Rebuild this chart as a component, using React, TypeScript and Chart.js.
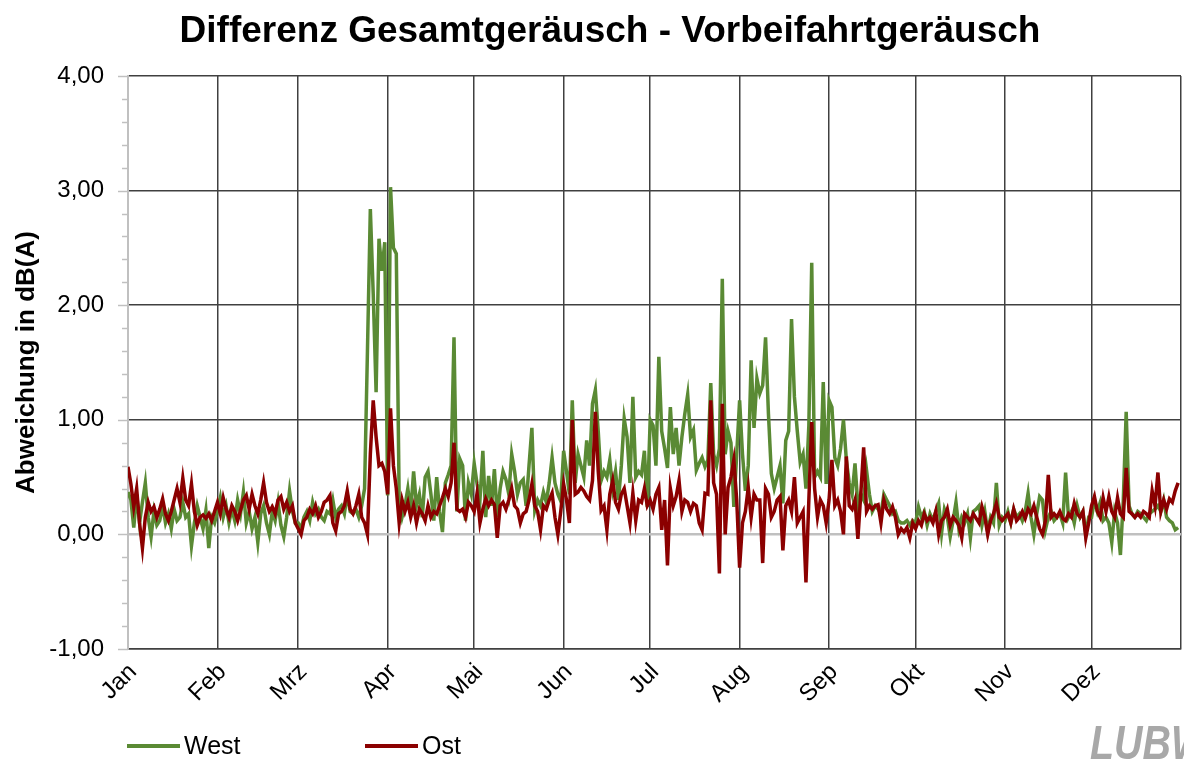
import React, { useEffect, useRef } from 'react';
import { Chart, registerables } from 'chart.js';

Chart.register(...registerables);

const chartTitle = 'Differenz Gesamtgeräusch - Vorbeifahrtgeräusch';
const yAxisTitle = 'Abweichung in dB(A)';
const monthLabels = ['Jan', 'Feb', 'Mrz', 'Apr', 'Mai', 'Jun', 'Jul', 'Aug', 'Sep', 'Okt', 'Nov', 'Dez'];
const monthDays = [31, 28, 31, 30, 31, 30, 31, 31, 30, 31, 30, 31];
const seriesNames = ['West', 'Ost'];

// daily values, one row per month
const westValues: number[][] = [
  [0.37, 0.30, 0.06, 0.35, 0.10, 0.28, 0.45, 0.15, -0.02, 0.20, 0.08, 0.12, 0.25, 0.10, 0.18, 0.05, 0.22, 0.12, 0.15, 0.28, 0.15, 0.18, -0.10, 0.10, 0.25, 0.15, 0.05, 0.21, -0.12, 0.15, 0.10],
  [0.20, 0.32, 0.15, 0.25, 0.10, 0.22, 0.12, 0.30, 0.18, 0.37, 0.10, 0.20, 0.05, 0.15, -0.07, 0.18, 0.25, 0.10, 0.00, 0.20, 0.12, 0.28, 0.08, -0.02, 0.15, 0.38, 0.20, 0.10],
  [0.10, 0.05, 0.15, 0.20, 0.12, 0.28, 0.18, 0.22, 0.15, 0.12, 0.20, 0.18, 0.30, 0.15, 0.22, 0.25, 0.18, 0.35, 0.20, 0.18, 0.22, 0.15, 0.25, 0.40, 1.60, 2.84, 2.10, 1.24, 2.58, 2.30, 2.55],
  [0.34, 3.03, 2.50, 2.45, 0.30, 0.15, 0.25, 0.40, 0.20, 0.55, 0.25, 0.35, 0.15, 0.50, 0.55, 0.35, 0.12, 0.50, 0.20, 0.02, 0.45, 0.52, 0.60, 1.72, 0.20, 0.66, 0.60, 0.12, 0.45, 0.35],
  [0.62, 0.44, 0.30, 0.73, 0.15, 0.51, 0.25, 0.57, 0.15, 0.40, 0.55, 0.48, 0.35, 0.70, 0.55, 0.35, 0.45, 0.48, 0.25, 0.60, 0.93, 0.21, 0.30, 0.25, 0.37, 0.28, 0.45, 0.67, 0.45, 0.35, 0.29],
  [0.73, 0.55, 0.35, 1.17, 0.45, 0.70, 0.60, 0.50, 0.82, 0.60, 1.14, 1.26, 0.90, 0.47, 0.55, 0.50, 0.65, 0.40, 0.55, 0.30, 0.60, 1.01, 0.85, 0.45, 1.20, 0.50, 0.55, 0.52, 0.73, 0.24],
  [1.00, 0.95, 0.60, 1.55, 0.90, 0.75, 0.58, 1.11, 0.70, 0.93, 0.60, 0.85, 1.05, 1.22, 0.85, 0.91, 0.56, 0.62, 0.67, 0.59, 0.65, 1.32, 0.70, 0.60, 0.75, 2.23, 0.70, 0.90, 0.80, 0.24, 0.70],
  [1.17, 0.70, 0.38, 0.60, 1.52, 0.93, 1.36, 1.23, 1.30, 1.72, 1.05, 0.53, 0.40, 0.50, 0.60, 0.27, 0.82, 0.90, 1.88, 1.20, 0.90, 0.63, 0.70, 0.40, 0.95, 2.37, 0.50, 0.55, 0.50, 1.33, 0.44],
  [1.17, 1.11, 0.67, 0.60, 0.75, 1.00, 0.65, 0.45, 0.35, 0.62, 0.25, 0.35, 0.30, 0.56, 0.35, 0.20, 0.25, 0.22, 0.18, 0.35, 0.30, 0.25, 0.18, 0.20, 0.12, 0.10, 0.10, 0.12, 0.08, 0.12],
  [0.10, 0.24, 0.15, 0.20, 0.08, 0.18, 0.12, 0.20, 0.27, 0.01, 0.22, 0.15, -0.02, 0.12, 0.28, 0.05, 0.15, 0.10, 0.18, -0.03, 0.20, 0.22, 0.25, 0.08, 0.20, 0.02, 0.15, 0.10, 0.45, 0.08, 0.15],
  [0.12, 0.20, 0.10, 0.22, 0.15, 0.18, 0.12, 0.20, 0.36, 0.15, 0.00, 0.18, 0.33, 0.30, 0.04, 0.15, 0.20, 0.12, 0.15, 0.18, 0.10, 0.54, 0.15, 0.20, 0.10, 0.25, 0.15, 0.20, 0.00, 0.15],
  [0.15, 0.30, 0.20, 0.28, 0.12, 0.15, 0.10, -0.07, 0.20, 0.10, -0.18, 0.30, 1.07, 0.25, 0.18, 0.15, 0.20, 0.18, 0.15, 0.12, 0.18, 0.20, 0.22, 0.25, 0.20, 0.30, 0.15, 0.12, 0.10, 0.04, 0.06],
];

const ostValues: number[][] = [
  [0.59, 0.44, 0.24, 0.40, 0.10, -0.12, 0.15, 0.28, 0.20, 0.24, 0.15, 0.22, 0.31, 0.18, 0.12, 0.20, 0.30, 0.40, 0.28, 0.49, 0.30, 0.25, 0.44, 0.20, 0.08, 0.15, 0.17, 0.14, 0.18, 0.12, 0.20],
  [0.28, 0.18, 0.32, 0.22, 0.15, 0.25, 0.20, 0.12, 0.21, 0.30, 0.34, 0.22, 0.35, 0.25, 0.18, 0.30, 0.45, 0.28, 0.20, 0.24, 0.18, 0.30, 0.33, 0.22, 0.28, 0.20, 0.25, 0.10],
  [0.05, 0.00, 0.12, 0.15, 0.22, 0.18, 0.25, 0.15, 0.20, 0.28, 0.30, 0.34, 0.10, 0.03, 0.18, 0.20, 0.25, 0.38, 0.22, 0.18, 0.25, 0.35, 0.15, 0.10, 0.00, 0.70, 1.17, 0.85, 0.60, 0.62, 0.55],
  [0.35, 1.10, 0.60, 0.40, 0.10, 0.30, 0.20, 0.28, 0.15, 0.25, 0.10, 0.22, 0.18, 0.12, 0.25, 0.15, 0.20, 0.18, 0.25, 0.32, 0.40, 0.33, 0.45, 0.80, 0.22, 0.20, 0.22, 0.15, 0.28, 0.25],
  [0.20, 0.36, 0.10, 0.22, 0.31, 0.25, 0.30, 0.26, -0.03, 0.25, 0.28, 0.22, 0.30, 0.40, 0.25, 0.22, 0.10, 0.18, 0.20, 0.30, 0.44, 0.25, 0.20, 0.04, 0.25, 0.22, 0.30, 0.36, 0.15, 0.00, 0.20],
  [0.44, 0.30, 0.10, 1.00, 0.35, 0.37, 0.41, 0.38, 0.33, 0.30, 0.47, 1.07, 0.55, 0.21, 0.25, 0.04, 0.35, 0.47, 0.28, 0.22, 0.35, 0.40, 0.25, 0.10, 0.36, 0.12, 0.30, 0.28, 0.40, 0.25],
  [0.30, 0.22, 0.35, 0.41, 0.04, 0.30, -0.27, 0.40, 0.25, 0.33, 0.47, 0.20, 0.30, 0.28, 0.20, 0.27, 0.25, 0.10, 0.04, 0.36, 0.35, 1.17, 0.45, 0.35, -0.34, 1.14, 0.00, 0.41, 0.50, 0.65, 0.30],
  [-0.29, 0.10, 0.20, 0.41, 0.15, 0.35, 0.30, 0.30, -0.25, 0.40, 0.35, 0.15, 0.20, 0.30, 0.33, -0.14, 0.25, 0.30, 0.20, 0.50, 0.10, 0.15, 0.20, -0.42, 0.30, 0.98, 0.40, 0.15, 0.30, 0.25, 0.10],
  [0.30, 0.65, 0.25, 0.30, 0.20, 0.00, 0.68, 0.25, 0.22, 0.30, -0.04, 0.35, 0.76, 0.20, 0.25, 0.22, 0.25, 0.26, 0.10, 0.30, 0.22, 0.18, 0.24, 0.15, 0.00, 0.05, 0.02, 0.06, -0.03, 0.10],
  [0.05, 0.12, 0.08, 0.18, 0.12, 0.15, 0.10, 0.20, 0.00, 0.12, 0.15, 0.22, 0.08, 0.15, 0.12, 0.08, -0.03, 0.18, 0.15, 0.12, 0.18, 0.14, 0.10, 0.24, 0.15, 0.00, 0.12, 0.18, 0.27, 0.15, 0.12],
  [0.15, 0.18, 0.10, 0.22, 0.12, 0.15, 0.20, 0.14, 0.22, 0.18, 0.25, 0.15, 0.05, 0.00, 0.12, 0.52, 0.15, 0.18, 0.15, 0.20, 0.14, 0.12, 0.18, 0.15, 0.27, 0.18, 0.15, 0.20, -0.03, 0.10],
  [0.25, 0.33, 0.20, 0.15, 0.32, 0.20, 0.33, 0.20, 0.15, 0.32, 0.18, 0.15, 0.58, 0.20, 0.18, 0.15, 0.18, 0.15, 0.20, 0.18, 0.15, 0.38, 0.25, 0.54, 0.20, 0.30, 0.22, 0.31, 0.28, 0.38, 0.45],
];

const FONT = "'Liberation Sans', Arial, sans-serif";
const GREEN = '#5a8a34';
const RED = '#8b0000';
const DARK = '#404040';
const GRAY = '#c0c0c0';

const isWhole = (v: number) => Math.abs(v - Math.round(v)) < 1e-6;

export default function App() {
  const ref = useRef<HTMLCanvasElement>(null);

  useEffect(() => {
    document.body.style.margin = '0';
    const canvas = ref.current;
    if (!canvas) return;

    const monthStarts: number[] = [];
    let acc = 0;
    for (const d of monthDays) {
      monthStarts.push(acc);
      acc += d;
    }
    const totalDays = acc;
    const toPoints = (rows: number[][]) => rows.flat().map((v, i) => ({ x: i, y: v }));

    const decor = {
      id: 'decor',
      afterDraw(chart: any) {
        const ctx = chart.ctx as CanvasRenderingContext2D;
        const yScale = chart.scales.y;
        const axisX = chart.chartArea.left;
        ctx.save();
        // y-axis tick marks (major + minor)
        ctx.strokeStyle = GRAY;
        ctx.lineWidth = 1.5;
        for (let k = 0; k <= 25; k++) {
          const v = -1 + k * 0.2;
          const y = Math.round(yScale.getPixelForValue(v)) + 0.5;
          const len = k % 5 === 0 ? 10 : 6;
          ctx.beginPath();
          ctx.moveTo(axisX - len, y);
          ctx.lineTo(axisX, y);
          ctx.stroke();
        }
        // title
        ctx.fillStyle = '#000';
        ctx.font = `bold 37px ${FONT}`;
        ctx.textAlign = 'center';
        ctx.textBaseline = 'middle';
        ctx.fillText(chartTitle, 610, 32);
        // legend
        const items = [
          { name: seriesNames[0], color: GREEN, x: 127 },
          { name: seriesNames[1], color: RED, x: 365 },
        ];
        ctx.font = `25px ${FONT}`;
        ctx.textAlign = 'left';
        for (const it of items) {
          ctx.strokeStyle = it.color;
          ctx.lineWidth = 4;
          ctx.beginPath();
          ctx.moveTo(it.x, 746);
          ctx.lineTo(it.x + 53, 746);
          ctx.stroke();
          ctx.fillStyle = '#000';
          ctx.fillText(it.name, it.x + 57, 747);
        }
        // logo
        ctx.fillStyle = '#a8a8a8';
        ctx.font = `italic bold 48px ${FONT}`;
        ctx.textBaseline = 'alphabetic';
        ctx.translate(1090, 759);
        ctx.scale(0.82, 1);
        ctx.fillText('LUBW', 0, 0);
        ctx.restore();
      },
    };

    const chart = new Chart(canvas, {
      type: 'line',
      data: {
        datasets: [
          {
            label: seriesNames[0],
            data: toPoints(westValues),
            borderColor: GREEN,
            backgroundColor: GREEN,
            borderWidth: 3.5,
            pointRadius: 0,
            tension: 0,
            order: 2,
          },
          {
            label: seriesNames[1],
            data: toPoints(ostValues),
            borderColor: RED,
            backgroundColor: RED,
            borderWidth: 3.5,
            pointRadius: 0,
            tension: 0,
            order: 1,
          },
        ],
      },
      options: {
        responsive: false,
        animation: false,
        events: [],
        layout: { padding: { top: 76, right: 3, bottom: 0, left: 0 } },
        plugins: {
          legend: { display: false },
          title: { display: false },
          tooltip: { enabled: false },
        },
        scales: {
          x: {
            type: 'linear',
            min: 0,
            max: totalDays,
            afterBuildTicks: (s: any) => {
              s.ticks = [...monthStarts, totalDays].map((v) => ({ value: v }));
            },
            afterFit: (s: any) => {
              s.height = 111;
              s.paddingLeft = 0;
              s.paddingRight = 0;
            },
            ticks: {
              autoSkip: false,
              minRotation: 45,
              maxRotation: 45,
              padding: 9,
              labelOffset: 5,
              color: '#000',
              font: { family: FONT, size: 24 },
              callback: (v: any) => {
                const i = monthStarts.indexOf(Number(v));
                return i >= 0 ? monthLabels[i] : '';
              },
            },
            grid: {
              color: (c: any) => (c.tick && c.tick.value === 0 ? 'rgba(0,0,0,0)' : DARK),
              lineWidth: 1.5,
              drawTicks: false,
            },
            border: { color: DARK, width: 1.5 },
          },
          y: {
            min: -1,
            max: 4,
            afterFit: (s: any) => {
              s.width = 128;
            },
            ticks: {
              stepSize: 0.2,
              autoSkip: false,
              padding: 14,
              color: '#000',
              font: { family: FONT, size: 24 },
              callback: (v: any) => (isWhole(Number(v)) ? Number(v).toFixed(2).replace('.', ',') : ''),
            },
            grid: {
              color: (c: any) => {
                const v = c.tick ? c.tick.value : 1;
                if (!isWhole(v)) return 'rgba(0,0,0,0)';
                return Math.abs(v) < 1e-6 ? GRAY : DARK;
              },
              lineWidth: (c: any) => (c.tick && Math.abs(c.tick.value) < 1e-6 ? 2.5 : 1.5),
              tickLength: 10,
              tickColor: 'rgba(0,0,0,0)',
            },
            border: { color: GRAY, width: 2 },
            title: {
              display: true,
              text: yAxisTitle,
              color: '#000',
              font: { family: FONT, size: 26, weight: 'bold' },
              padding: { top: 11, bottom: 0 },
            },
          },
        },
      },
      plugins: [decor],
    } as any);

    return () => chart.destroy();
  }, []);

  return <canvas ref={ref} width={1184} height={760} style={{ display: 'block' }} />;
}
